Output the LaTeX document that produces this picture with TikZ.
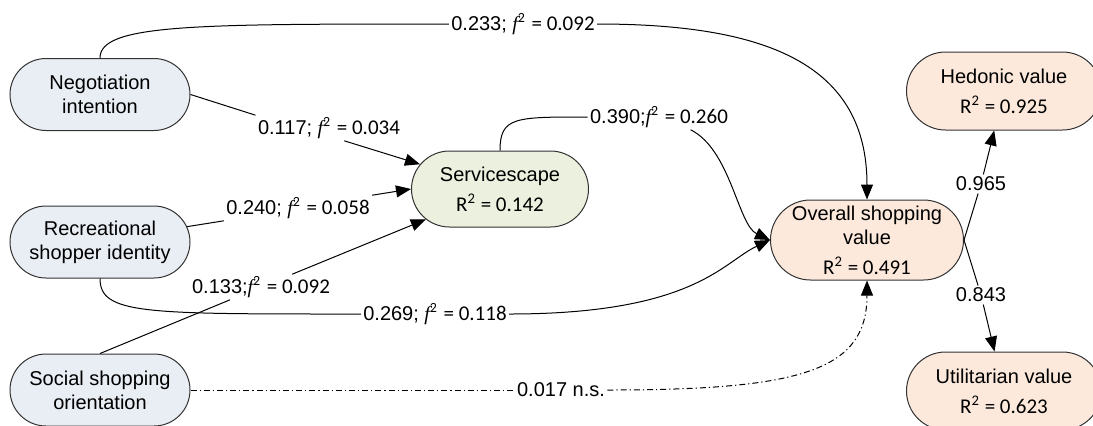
\documentclass[tikz,border=0pt]{standalone}
\usepackage{fontspec}
\setmainfont{Liberation Sans}
\newfontfamily\calibri{Carlito}
\newfontfamily\lserif{Liberation Serif}
\usetikzlibrary{arrows.meta,shapes.misc}

\definecolor{boxBlue}{RGB}{233,237,244}
\definecolor{boxGreen}{RGB}{235,241,222}
\definecolor{boxPeach}{RGB}{252,233,220}
\definecolor{boxLine}{RGB}{50,50,50}

\newcommand{\rsq}[1]{{\calibri\fontsize{10.5}{12}\selectfont R\textsuperscript{2} = #1}}
\newcommand{\fval}[1]{{\lserif\itshape f\/}\kern-1.2pt\textsuperscript{\calibri 2} {\calibri\fontsize{10.5}{12}\selectfont = #1}}

\begin{document}
\begin{tikzpicture}[x=0.5pt,y=-0.5pt,line width=0.5pt,
        main/.style={rounded rectangle,draw=boxLine,align=center,inner xsep=-8pt,inner ysep=0pt},
        left/.style={main,fill=boxBlue,minimum width=74pt,minimum height=36pt},
        right/.style={main,fill=boxPeach,minimum width=81.5pt,minimum height=39pt},
        lbl/.style={inner sep=1pt},
        arr/.style={-{Triangle[length=7.5pt,width=6pt]}},
        dd/.style={dash pattern=on 3pt off 1.5pt on 0.6pt off 1.5pt}]
            \clip (0,0) rectangle (1093,425);

            \node[left] (neg) at (100,94.5) {Negotiation\\intention};
            \node[left] (rec) at (100,242) {Recreational\\shopper identity};
            \node[left] (soc) at (100,390) {Social shopping\\orientation};

            \node[main,fill=boxGreen,minimum width=72.5pt,minimum height=38pt] (serv) at (500,189) {Servicescape\\[3pt]\rsq{0.142}};
            \node[main,fill=boxPeach,minimum width=80.5pt,minimum height=40pt] (ovr) at (867,240) {Overall shopping\\value\\[3pt]\rsq{0.491}};

            \node[right] (hed) at (1004,91) {Hedonic value\\[3pt]\rsq{0.925}};
            \node[right] (util) at (1004,391) {Utilitarian value\\[3pt]\rsq{0.623}};

            \node[lbl] (l233) at (523,24) {0.233; \fval{0.092}};
            \node[lbl] (l117) at (329,128) {0.117; \fval{0.034}};
            \node[lbl] (l240) at (298,208) {0.240; \fval{0.058}};
            \node[lbl] (l133) at (261,287) {0.133;\fval{0.092}};
            \node[lbl] (l390) at (659,117) {0.390;\fval{0.260}};
            \node[lbl] (l269) at (435,314) {0.269; \fval{0.118}};
            \node[lbl] (l017) at (561,390) {0.017 n.s.};
            \node[lbl] (l965) at (981,184) {0.965};
            \node[lbl] (l843) at (981,295) {0.843};

            \draw (neg.north) .. controls +(0,-34) and +(-254,0) .. (l233.west);
            \draw[arr] (l233.east) .. controls +(170,0) and +(0,-135) .. (ovr.north);

            \draw (neg.east) -- (l117.north west);
            \draw[arr] (l117.-40) -- (serv);

            \draw (rec.10) -- (l240.south west);
            \draw[arr] (l240.north east) -- (serv.west);

            \draw (soc.north) -- (l133);
            \draw[arr] (l133) -- (serv);

            \draw (rec.south) .. controls +(0,36) and +(-216,0) .. (l269.west);
            \draw[arr] (l269.east) .. controls +(185,0) and +(-47,22) .. (ovr.west);

            \draw (serv.north) .. controls +(0,-34) and +(-72,0) .. (l390.west);
            \draw[arr] (l390.-22) .. controls +(40,20) and +(-32,-15) .. (ovr.west);

            \draw[dd] (soc.east) -- (l017.west);
            \draw[dd,arr] (l017.east) .. controls +(194,0) and +(0,90) .. (ovr.south);

            \draw (ovr.east) -- (l965);
            \draw[arr] (l965) -- (hed);
            \draw (ovr.east) -- (l843);
            \draw[arr] (l843) -- (util);
        \end{tikzpicture}
\end{document}
